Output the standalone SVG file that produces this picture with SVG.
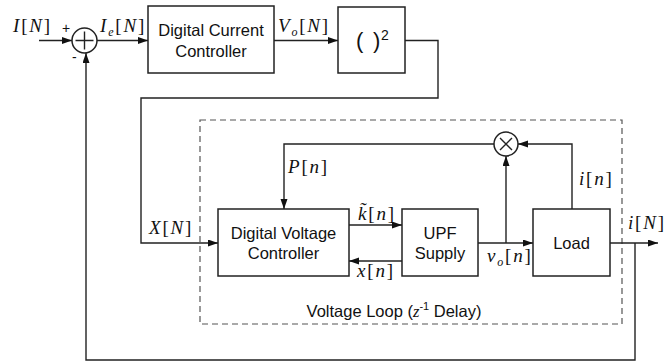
<svg xmlns="http://www.w3.org/2000/svg" width="669" height="363" viewBox="0 0 669 363">
<style>
.box{fill:none;stroke:#222;stroke-width:1.5}
.ln{fill:none;stroke:#222;stroke-width:1.4}
.arr{marker-end:url(#ah)}
.dash{fill:none;stroke:#555;stroke-width:1.2;stroke-dasharray:6 4}
.t{font-family:"Liberation Sans",Arial,sans-serif;font-size:16.5px;fill:#111;text-anchor:middle}
.m{font-family:"Liberation Serif","Times New Roman",serif;font-size:19px;fill:#111;letter-spacing:1.8px}
.it{font-style:italic}
.sub{font-size:12px}
.s{font-family:"Liberation Sans",Arial,sans-serif;fill:#111}
</style>
<defs>
<marker id="ah" markerUnits="userSpaceOnUse" markerWidth="11" markerHeight="8" refX="10" refY="3.5" orient="auto">
<path d="M0,0 L10,3.5 L0,7 z" fill="#111"/>
</marker>
</defs>
<rect class="dash" x="200" y="120" width="422" height="204"/>
<g id="connectors">
<path class="ln arr" d="M39,40.5 H72"/>
<path class="ln arr" d="M97,40.5 H148"/>
<path class="ln arr" d="M274,40.5 H338"/>
<path class="ln arr" d="M405,40.5 H438 V98 H141 V243 H218"/>
<path class="ln arr" d="M494,144 H284 V209"/>
<path class="ln arr" d="M349,225 H402"/>
<path class="ln arr" d="M402,261 H349"/>
<path class="ln arr" d="M478,243 H533"/>
<path class="ln arr" d="M506,243 V156"/>
<path class="ln arr" d="M572,209 V144 H518"/>
<path class="ln arr" d="M610,243 H658"/>
<path class="ln arr" d="M635,243 V360 H86 V53"/>
</g>
<g id="sum">
<circle class="box" cx="84.5" cy="40.5" r="12.5"/>
<path class="ln" d="M75.5,40.5 H93.5 M84.5,31.5 V49.5"/>
<text class="s" x="62" y="33" font-size="14">+</text>
<text class="s" x="72" y="62" font-size="14">-</text>
</g>
<g id="current-controller">
<rect class="box" x="148" y="6" width="126" height="67"/>
<text class="t" x="211" y="36">Digital Current</text>
<text class="t" x="211" y="57">Controller</text>
</g>
<g id="square">
<rect class="box" x="338" y="7" width="67" height="66"/>
<text class="s" x="356" y="48" font-size="22">(</text>
<text class="s" x="373" y="48" font-size="22">)</text>
<text class="s" x="381" y="40" font-size="14">2</text>
</g>
<g id="multiplier">
<circle class="box" cx="506" cy="144" r="12"/>
<path class="ln" d="M500,138 L512,150 M512,138 L500,150"/>
</g>
<g id="voltage-controller">
<rect class="box" x="218" y="209" width="131" height="67"/>
<text class="t" x="283.5" y="239">Digital Voltage</text>
<text class="t" x="283.5" y="259">Controller</text>
</g>
<g id="upf">
<rect class="box" x="402" y="209" width="76" height="67"/>
<text class="t" x="440" y="239">UPF</text>
<text class="t" x="440" y="259">Supply</text>
</g>
<g id="load">
<rect class="box" x="533" y="209" width="77" height="67"/>
<text class="t" x="571.5" y="249">Load</text>
</g>
<g id="labels">
<text class="m" x="13" y="32"><tspan class="it">I</tspan>[<tspan class="it">N</tspan>]</text>
<text class="m" x="100" y="32"><tspan class="it">I</tspan><tspan class="sub it" dy="4">e</tspan><tspan dy="-4">[</tspan><tspan class="it">N</tspan>]</text>
<text class="m" x="278" y="32"><tspan class="it">V</tspan><tspan class="sub it" dy="4">o</tspan><tspan dy="-4">[</tspan><tspan class="it">N</tspan>]</text>
<text class="m" x="149" y="234"><tspan class="it">X</tspan>[<tspan class="it">N</tspan>]</text>
<text class="m" x="288" y="173"><tspan class="it">P</tspan>[<tspan class="it">n</tspan>]</text>
<text class="m" x="358" y="220"><tspan class="it">k&#x303;</tspan>[<tspan class="it">n</tspan>]</text>
<text class="m" x="357" y="277"><tspan class="it">x</tspan>[<tspan class="it">n</tspan>]</text>
<text class="m" x="487" y="262"><tspan class="it">v</tspan><tspan class="sub it" dy="4">o</tspan><tspan dy="-4">[</tspan><tspan class="it">n</tspan>]</text>
<text class="m" x="579" y="185"><tspan class="it">i</tspan>[<tspan class="it">n</tspan>]</text>
<text class="m" x="628" y="229"><tspan class="it">i</tspan>[<tspan class="it">N</tspan>]</text>
<text class="s" x="394" y="317" font-size="16.5" text-anchor="middle">Voltage Loop (<tspan font-family="Liberation Serif, serif" font-style="italic">z</tspan><tspan font-size="11" dy="-7">-1</tspan><tspan dy="7"> Delay)</tspan></text>
</g>
</svg>
